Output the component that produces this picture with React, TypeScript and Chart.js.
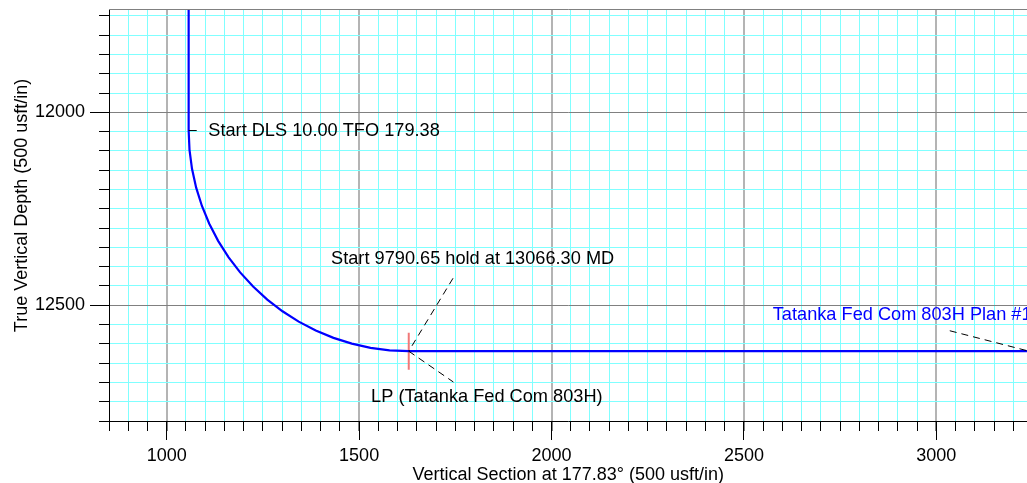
import React, { useEffect, useRef } from 'react';
import { Chart, registerables } from 'chart.js';

Chart.register(...registerables);

const FONT = '"Liberation Sans", Arial, sans-serif';

// well path (vertical section / true vertical depth)
const pathVS = [
  1057, 1057, 1059.2, 1065.7, 1076.5, 1091.5, 1110.6, 1133.6, 1160.4, 1190.8, 1224.5,
  1261.3, 1300.9, 1343, 1387.3, 1433.4, 1481, 1529.7, 1579.1, 1629, 3300,
];
const pathTVD = [
  11600, 12047, 12096.9, 12146.3, 12195, 12242.6, 12288.7, 12333, 12375.1, 12414.7, 12451.5,
  12485.2, 12515.6, 12542.4, 12565.4, 12584.5, 12599.5, 12610.3, 12616.8, 12619, 12619,
];

// landing point marker
const lpVS = [1629];
const lpTVD = [12619];

// axis ranges
const vsMin = 850;
const vsMax = 3237;
const tvdMin = 11734;
const tvdMax = 12800;
const minorStep = 50;
const majorStep = 500;

// annotations
const noteTexts = [
  'Start DLS 10.00 TFO 179.38',
  'Start 9790.65 hold at 13066.30 MD',
  'LP (Tatanka Fed Com 803H)',
  'Tatanka Fed Com 803H Plan #1',
];
const noteVS = [1108, 1795, 1832, 2575];
const noteTVD = [12048, 12381, 12738, 12526];
const noteAlign: CanvasTextAlign[] = ['left', 'center', 'center', 'left'];
const noteColors = ['#000000', '#000000', '#000000', '#0000ff'];

// leader lines: [vs1, tvd1, vs2, tvd2]
const leaders = [
  [1057, 12047, 1078, 12047],
  [1744, 12430, 1629, 12619],
  [1629, 12619, 1745, 12699],
  [3035, 12566, 3237, 12618],
];
const leaderDashed = [false, true, true, true];

// where the plot box sits in the 1027x483 window
const PAGE_W = 1027;
const PAGE_H = 483;
const AREA_TOP = 10;
const AREA_LEFT = 109;
const X_AXIS_H = 62;

const isMajor = (v: number) => Math.abs(v % majorStep) < 1e-6;
const align = (p: number) => Math.round(p - 0.5) + 0.5;

const wellPlot = {
  id: 'wellPlot',
  afterDraw(chart: Chart) {
    const { ctx, chartArea } = chart;
    const x = chart.scales.x;
    const y = chart.scales.y;
    ctx.save();

    // top border
    ctx.strokeStyle = '#808080';
    ctx.lineWidth = 1;
    ctx.beginPath();
    ctx.moveTo(chartArea.left, align(chartArea.top));
    ctx.lineTo(chartArea.right, align(chartArea.top));
    ctx.stroke();

    // longer major ticks
    ctx.strokeStyle = '#000';
    ctx.beginPath();
    x.ticks.forEach((t) => {
      if (!isMajor(t.value)) return;
      const px = align(x.getPixelForValue(t.value));
      ctx.moveTo(px, chartArea.bottom);
      ctx.lineTo(px, chartArea.bottom + 19);
    });
    y.ticks.forEach((t) => {
      if (!isMajor(t.value)) return;
      const py = align(y.getPixelForValue(t.value));
      ctx.moveTo(chartArea.left, py);
      ctx.lineTo(chartArea.left - 19, py);
    });
    ctx.stroke();

    // leader lines
    ctx.save();
    ctx.beginPath();
    ctx.rect(chartArea.left, chartArea.top, chartArea.right - chartArea.left, chartArea.bottom - chartArea.top);
    ctx.clip();
    leaders.forEach((l, i) => {
      ctx.setLineDash(leaderDashed[i] ? [7, 5] : []);
      ctx.beginPath();
      ctx.moveTo(x.getPixelForValue(l[0]), y.getPixelForValue(l[1]));
      ctx.lineTo(x.getPixelForValue(l[2]), y.getPixelForValue(l[3]));
      ctx.stroke();
    });
    ctx.restore();

    // notes
    ctx.font = `18.2px ${FONT}`;
    ctx.textBaseline = 'middle';
    noteTexts.forEach((txt, i) => {
      ctx.fillStyle = noteColors[i];
      ctx.textAlign = noteAlign[i];
      ctx.fillText(txt, x.getPixelForValue(noteVS[i]), y.getPixelForValue(noteTVD[i]));
    });

    // y axis title, centred a little above the plot middle
    ctx.font = `18px ${FONT}`;
    ctx.fillStyle = '#000';
    ctx.textAlign = 'center';
    ctx.translate(22, (chartArea.top + chartArea.bottom) / 2 - 10);
    ctx.rotate(-Math.PI / 2);
    ctx.fillText('True Vertical Depth (500 usft/in)', 0, 0);
    ctx.restore();
  },
};

const gridColor = (vertical: boolean) => (c: any) => {
  const v = c.tick ? c.tick.value : 0;
  if (isMajor(v)) return vertical ? '#b4b4b4' : '#808080';
  return '#80ffff';
};

const makeConfig = (): any => ({
  type: 'scatter',
  data: {
    datasets: [
      {
        data: pathVS.map((v, i) => ({ x: v, y: pathTVD[i] })),
        showLine: true,
        borderColor: '#0000ff',
        borderWidth: 2.2,
        pointRadius: 0,
        tension: 0,
      },
      {
        data: lpVS.map((v, i) => ({ x: v, y: lpTVD[i] })),
        pointStyle: 'line',
        rotation: 90,
        pointRadius: 18.5,
        borderColor: '#f07878',
        borderWidth: 2,
      },
    ],
  },
  options: {
    responsive: false,
    maintainAspectRatio: false,
    animation: false,
    layout: { padding: { top: AREA_TOP, left: 0, right: 0, bottom: 0 } },
    plugins: {
      legend: { display: false },
      tooltip: { enabled: false },
    },
    scales: {
      x: {
        type: 'linear',
        min: vsMin,
        max: vsMax,
        afterFit: (s: any) => {
          s.height = X_AXIS_H;
        },
        border: { color: '#000', width: 1 },
        grid: {
          color: gridColor(true),
          lineWidth: (c: any) => (c.tick && isMajor(c.tick.value) ? 2 : 1),
          tickColor: '#000',
          tickWidth: 1,
          tickLength: 10,
        },
        ticks: {
          stepSize: minorStep,
          includeBounds: false,
          autoSkip: false,
          maxRotation: 0,
          padding: 14,
          color: '#000',
          font: { size: 18, family: FONT },
          callback: (v: any) => (isMajor(Number(v)) ? String(v) : ''),
        },
        title: {
          display: true,
          text: 'Vertical Section at 177.83° (500 usft/in)',
          color: '#000',
          font: { size: 18, family: FONT },
          padding: { top: 0, bottom: -3 },
        },
      },
      y: {
        type: 'linear',
        reverse: true,
        min: tvdMin,
        max: tvdMax,
        afterFit: (s: any) => {
          s.width = AREA_LEFT;
        },
        border: { color: '#000', width: 1 },
        grid: {
          color: gridColor(false),
          lineWidth: 1,
          tickColor: '#000',
          tickWidth: 1,
          tickLength: 10,
        },
        ticks: {
          stepSize: minorStep,
          includeBounds: false,
          autoSkip: false,
          padding: 14,
          color: '#000',
          font: { size: 18, family: FONT },
          callback: (v: any) => (isMajor(Number(v)) ? String(v) : ''),
        },
      },
    },
  },
  plugins: [wellPlot],
});

export default function App() {
  const canvasRef = useRef<HTMLCanvasElement>(null);

  useEffect(() => {
    const canvas = canvasRef.current;
    if (!canvas) return;

    // Chart.js reserves room for tick labels at the ends of the axes;
    // grow the canvas and shift it so the plot box lands where the reference has it.
    let w = PAGE_W;
    let h = PAGE_H;
    let oy = 0;
    let chart: Chart | null = null;
    for (let i = 0; i < 4; i++) {
      if (chart) chart.destroy();
      canvas.width = Math.round(w);
      canvas.height = Math.round(h);
      canvas.style.top = `${oy}px`;
      chart = new Chart(canvas, makeConfig());
      const ca = chart.chartArea;
      const dw = PAGE_W - ca.right;
      const dTop = AREA_TOP - (oy + ca.top);
      if (Math.abs(dw) < 0.5 && Math.abs(dTop) < 0.5) break;
      w += dw;
      oy = Math.round(oy + dTop);
      h = PAGE_H - oy;
    }

    return () => {
      if (chart) chart.destroy();
    };
  }, []);

  return (
    <div style={{ position: 'absolute', left: 0, top: 0, width: PAGE_W, height: PAGE_H, overflow: 'hidden', background: '#fff' }}>
      <canvas ref={canvasRef} width={PAGE_W} height={PAGE_H} style={{ display: 'block', position: 'absolute', left: 0, top: 0 }} />
    </div>
  );
}
